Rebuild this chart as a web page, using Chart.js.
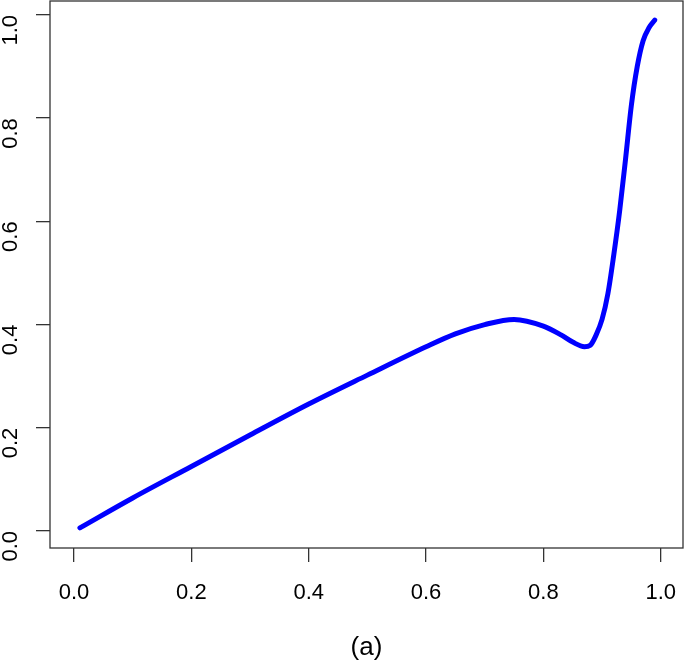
<!DOCTYPE html>
<html>
<head>
<meta charset="utf-8">
<script src="https://cdn.jsdelivr.net/npm/chart.js@4"></script>
<style>
    html, body { margin: 0; padding: 0; background: #fff; }
    #wrap { width: 685px; height: 662px; }
</style>
</head>
<body>
<div id="wrap"><canvas id="curveChart"></canvas></div>
<script>
// values
const xValues = [0.01, 0.1, 0.2, 0.3, 0.4, 0.5, 0.6, 0.65, 0.7, 0.75, 0.8, 0.83, 0.85, 0.87, 0.88,
    0.89, 0.9, 0.91, 0.92, 0.93, 0.94, 0.95, 0.96, 0.97, 0.98, 0.99];
const yValues = [0.006, 0.064, 0.125, 0.186, 0.246, 0.302, 0.357, 0.382, 0.4, 0.41, 0.397, 0.38, 0.366, 0.357, 0.36,
    0.38, 0.41, 0.46, 0.535, 0.62, 0.72, 0.825, 0.9, 0.95, 0.975, 0.99];
const xTicks = [0.0, 0.2, 0.4, 0.6, 0.8, 1.0];
const yTicks = [0.0, 0.2, 0.4, 0.6, 0.8, 1.0];
const caption = '(a)';

const font = { family: '"Liberation Sans", Arial, sans-serif', size: 22 };
const captionFont = { family: '"Liberation Sans", Arial, sans-serif', size: 26, lineHeight: 1 };

// draws the box round the plot region, like R's box()
const boxPlugin = {
    id: 'box',
    afterDraw(chart) {
        const a = chart.chartArea;
        const ctx = chart.ctx;
        ctx.save();
        ctx.strokeStyle = '#333';
        ctx.lineWidth = 1.3;
        ctx.strokeRect(a.left, a.top, a.right - a.left, a.bottom - a.top);
        ctx.restore();
    }
};

const ctx = document.getElementById('curveChart').getContext('2d');
window.curveChart = new Chart(ctx, {
    type: 'line',
    data: {
        datasets: [{
            data: xValues.map((x, i) => ({ x: x, y: yValues[i] })),
            borderColor: '#0000ff',
            borderWidth: 5,
            borderCapStyle: 'round',
            borderJoinStyle: 'round',
            pointRadius: 0,
            cubicInterpolationMode: 'monotone',
            fill: false
        }]
    },
    options: {
        responsive: true,
        maintainAspectRatio: false,
        animation: false,
        layout: { padding: { top: 1, right: 2, left: 0, bottom: 0 } },
        plugins: {
            legend: { display: false },
            tooltip: { enabled: false }
        },
        scales: {
            x: {
                type: 'linear',
                min: -0.041,
                max: 1.038,
                afterBuildTicks: s => { s.ticks = xTicks.map(v => ({ value: v })); },
                afterFit: s => { s.height = 114; s.paddingLeft = 0; s.paddingRight = 0; },
                grid: { drawOnChartArea: false, drawTicks: true, tickLength: 14, color: '#333', lineWidth: 1.3 },
                border: { display: false },
                ticks: {
                    color: '#000',
                    font: font,
                    padding: 18,
                    maxRotation: 0,
                    callback: v => v.toFixed(1)
                },
                title: { display: true, text: caption, color: '#000', font: captionFont, padding: { top: 0, bottom: 1 } }
            },
            y: {
                type: 'linear',
                min: -0.033,
                max: 1.027,
                afterBuildTicks: s => { s.ticks = yTicks.map(v => ({ value: v })); },
                afterFit: s => { s.width = 50; s.paddingTop = 0; s.paddingBottom = 0; },
                grid: { drawOnChartArea: false, drawTicks: true, tickLength: 14, color: '#333', lineWidth: 1.3 },
                border: { display: false },
                ticks: {
                    color: '#000',
                    font: font,
                    padding: 25,
                    minRotation: 90,
                    maxRotation: 90,
                    callback: v => v.toFixed(1)
                }
            }
        }
    },
    plugins: [boxPlugin]
});
</script>
</body>
</html>
